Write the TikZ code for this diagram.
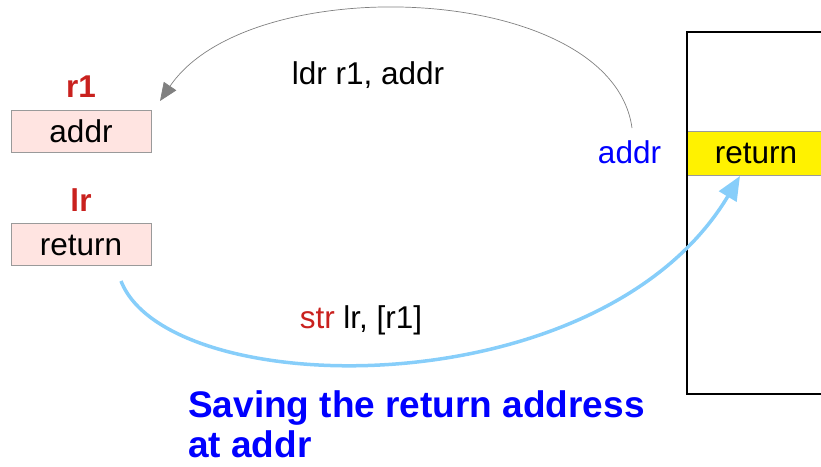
\documentclass[tikz,border=0pt]{standalone}
\usepackage{fontspec}
\setmainfont{Liberation Sans}
\usetikzlibrary{arrows.meta,calc}
\definecolor{regfill}{HTML}{FFE4E1}
\definecolor{regdraw}{HTML}{9A9A9A}
\definecolor{redtxt}{HTML}{C9211E}
\definecolor{skyarrow}{HTML}{87CEFA}
\definecolor{capblue}{HTML}{0000FF}
\definecolor{ldrgray}{HTML}{808080}
\begin{document}
\begin{tikzpicture}[x=1pt,y=-1pt,
  txt/.style={font=\fontsize{31.5}{36}\selectfont, inner sep=0pt, anchor=base},
  regbox/.style={draw=regdraw, fill=regfill, line width=0.8pt, minimum width=140pt, minimum height=42pt, inner sep=0pt},
  reglabel/.style={txt, font=\fontsize{31.5}{36}\selectfont\bfseries, text=redtxt},
  ldrarrow/.style={draw=ldrgray, line width=0.7pt, -{Triangle[length=18pt,width=15pt]}},
  strarrow/.style={draw=skyarrow, line width=3.5pt, -{Triangle[length=24pt,width=20pt]}},
]
\clip (0,0) rectangle (821,466);
% registers
\node[regbox] (r1box) at (81,131) {};
\node[txt] (r1val) at (81,142) {addr};
\node[reglabel] (r1lab) at (81,97) {r1};
\node[regbox] (lrbox) at (81,244) {};
\node[txt] (lrval) at (81,255) {return};
\node[reglabel] (lrlab) at (81,211) {lr};
% memory
\node[draw=regdraw, fill=yellow, line width=0.8pt, minimum width=140pt, minimum height=44pt, inner sep=0pt, anchor=north west] (slot) at (686,131) {};
\node[txt] (slotval) at (756,163) {return};
\node[draw=black, line width=2pt, minimum width=170pt, minimum height=362pt, inner sep=0pt, anchor=north west] (mem) at (686,31) {};
\node[txt, text=capblue] (addrlab) at (629.5,163) {addr};
% ldr arrow
\coordinate (ldrstart) at (632,128);
\coordinate (ldrend) at (160,101);
\draw[ldrarrow] (ldrstart) .. controls (612,-18) and (250,-32) .. (ldrend);
\node[txt] (ldrtxt) at (368,84) {ldr r1, addr};
% str arrow
\coordinate (strstart) at (121,281);
\coordinate (strend) at (740,176);
\draw[strarrow] (strstart) .. controls (168,402) and (600,410) .. (strend);
\node[txt] (strtxt) at (361,328) {\textcolor{redtxt}{str} lr, [r1]};
% caption
\node[font=\fontsize{37}{40}\selectfont\bfseries, text=capblue, inner sep=0pt, anchor=base west, align=left] (cap) at (188,457) {Saving the return address\\at addr};
\end{tikzpicture}
\end{document}
